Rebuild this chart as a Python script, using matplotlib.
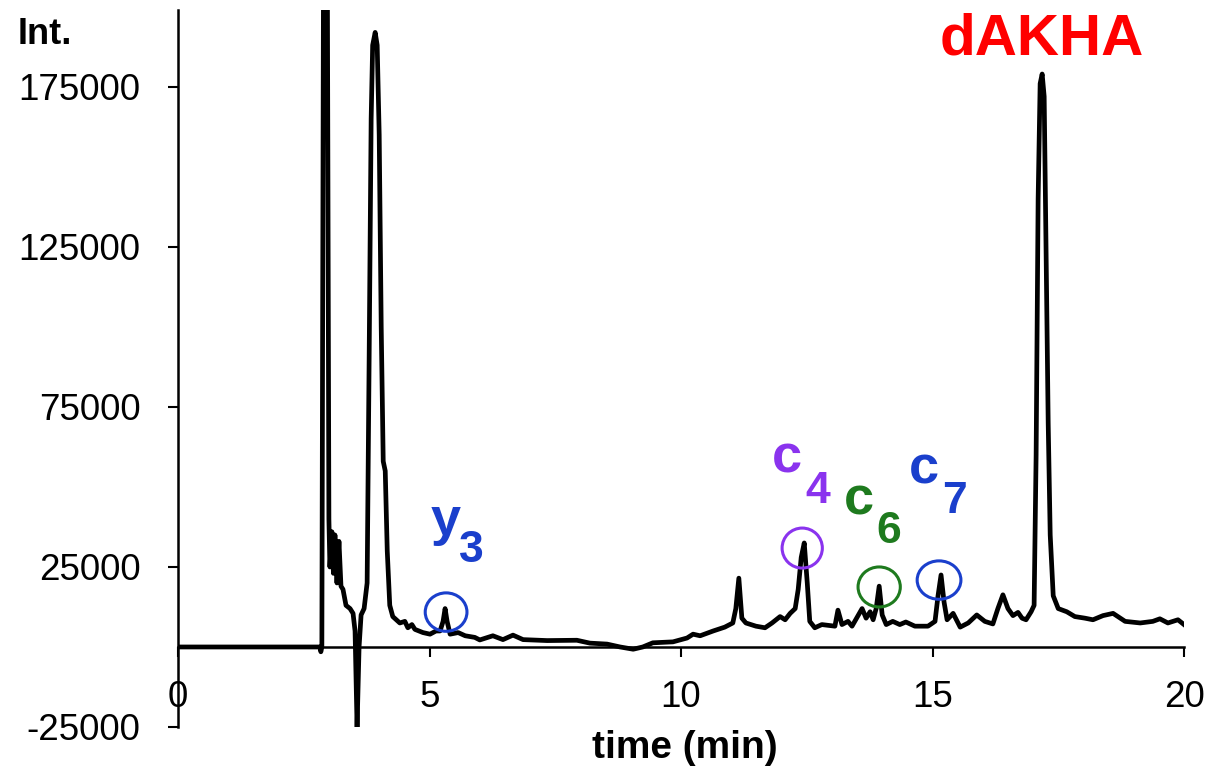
import matplotlib.pyplot as plt
from matplotlib.patches import Ellipse

plt.rcParams["font.family"] = ["Liberation Sans", "DejaVu Sans"]

# chromatogram trace (time in min, intensity)
time_min = [
    0.00, 2.82, 2.84, 2.86, 2.90, 2.96, 3.00, 3.02, 3.06, 3.09, 3.12, 3.16,
    3.20, 3.24, 3.28, 3.34, 3.42, 3.48, 3.52, 3.56, 3.60, 3.64, 3.70, 3.76,
    3.80, 3.84, 3.87, 3.92, 3.96, 4.00, 4.04, 4.08, 4.12, 4.16, 4.21, 4.27,
    4.41, 4.51, 4.57, 4.65, 4.71, 4.87, 5.01, 5.13, 5.21, 5.27, 5.31, 5.35,
    5.41, 5.57, 5.71, 5.90, 6.00, 6.26, 6.46, 6.66, 6.86, 7.34, 7.93, 8.19,
    8.53, 8.79, 9.05, 9.24, 9.44, 9.84, 10.12, 10.24, 10.38, 10.64, 10.87,
    11.03, 11.09, 11.15, 11.21, 11.29, 11.49, 11.67, 11.81, 11.97, 12.07,
    12.17, 12.27, 12.33, 12.39, 12.45, 12.51, 12.56, 12.66, 12.80, 13.06,
    13.12, 13.20, 13.32, 13.40, 13.60, 13.68, 13.76, 13.82, 13.88, 13.94,
    14.00, 14.08, 14.21, 14.35, 14.47, 14.65, 14.91, 15.05, 15.11, 15.17,
    15.23, 15.29, 15.41, 15.55, 15.71, 15.88, 16.04, 16.20, 16.30, 16.40,
    16.50, 16.60, 16.70, 16.78, 16.86, 16.96, 17.02, 17.06, 17.10, 17.14,
    17.18, 17.22, 17.26, 17.30, 17.34, 17.40, 17.50, 17.67, 17.83, 18.03,
    18.19, 18.39, 18.59, 18.83, 19.13, 19.38, 19.52, 19.68, 19.88, 20.00,
]
intensity = [
    0, 0, -1500, 0, 260000, 260000, 40000, 25000, 36000, 23000, 35000, 20000,
    33000, 19000, 18000, 13000, 12000, 10500, 5000, -25000, 0, 10000, 12000, 20000,
    90000, 165000, 188000, 192000, 188000, 160000, 100000, 58000, 55000, 30000, 13000, 9500,
    7500, 8000, 6000, 7000, 5500, 4500, 4000, 5000, 5000, 8000, 12000, 8000,
    4000, 4500, 3500, 3000, 2200, 3500, 2300, 3700, 2300, 2000, 2100, 1200,
    900, 0, -700, 0, 1300, 1600, 2800, 4000, 3500, 5000, 6200,
    7500, 12000, 21500, 9000, 7500, 6500, 6000, 7500, 9500, 8500,
    10500, 12000, 18000, 28000, 32500, 20000, 8000, 6000, 7000, 6500,
    11500, 7000, 8000, 6500, 12000, 9000, 11000, 8500, 12000, 19000,
    10000, 7000, 8000, 7000, 7800, 6500, 6500, 8000, 16000, 22500,
    14000, 8500, 10500, 6200, 7500, 10000, 8000, 7200, 12000, 16300,
    12000, 9800, 10800, 9000, 8500, 11000, 13000, 60000, 140000, 176000,
    179000, 172000, 120000, 70000, 35000, 16000, 12000, 11000, 9500, 9000,
    8500, 9800, 10500, 8000, 7500, 8000, 8800, 7500, 8500, 7000,
]

x_ticks = [0, 5, 10, 15, 20]
y_ticks = [-25000, 25000, 75000, 125000, 175000]

# marked fragment peaks: name, subscript, colour, peak time, peak height
frag_names = ["y", "c", "c", "c"]
frag_subs = ["3", "4", "6", "7"]
frag_colors = ["#1a3fcc", "#8a33ee", "#1e7a1e", "#1a3fcc"]
frag_times = [5.33, 12.41, 13.94, 15.13]
frag_heights = [10900, 30900, 18750, 20900]

fig = plt.figure(figsize=(12.21, 7.75), dpi=100)
ax = fig.add_axes([178 / 1221, 48 / 775, 1006 / 1221, 717 / 775])

ax.plot(time_min, intensity, color="black", lw=3.4, solid_joinstyle="round", zorder=3)

ax.set_xlim(0, 20)
ax.set_ylim(-25000, 199000)
ax.set_xticks(x_ticks)
ax.set_yticks(y_ticks)
ax.set_yticklabels([str(v) for v in y_ticks])

for side in ["top", "right"]:
    ax.spines[side].set_visible(False)
ax.spines["bottom"].set_position(("data", 0))
ax.spines["bottom"].set_linewidth(1.8)
ax.spines["left"].set_linewidth(1.8)
ax.tick_params(axis="both", direction="out", length=7, width=1.5, labelsize=26.5)
ax.tick_params(axis="x", pad=17)
ax.tick_params(axis="y", pad=20)

# circles and labels for the fragments
label_dx = [-0.30, -0.60, -0.70, -0.60]
label_dy = [24000, 23500, 22500, 30300]
sub_dx = [0.25, 0.07, -0.06, 0.06]
sub_dy = [15700, 14100, 13750, 21000]
circ_w = [0.83, 0.80, 0.84, 0.87]
circ_h = [12000, 12500, 12500, 12000]
for i in range(len(frag_names)):
    ax.add_patch(Ellipse((frag_times[i], frag_heights[i]), circ_w[i], circ_h[i],
                         fill=False, edgecolor=frag_colors[i], lw=2.2, zorder=4))
    ax.text(frag_times[i] + label_dx[i], frag_heights[i] + label_dy[i], frag_names[i],
            color=frag_colors[i], fontsize=39, fontweight="bold", ha="left", va="baseline")
    ax.text(frag_times[i] + sub_dx[i], frag_heights[i] + sub_dy[i], frag_subs[i],
            color=frag_colors[i], fontsize=32, fontweight="bold", ha="left", va="baseline")

ax.text(17.17, 185000, "dAKHA", color="#ff0000", fontsize=42, fontweight="bold",
        ha="center", va="baseline")

fig.text(18 / 1221, 1 - 44 / 775, "Int.", fontsize=26, fontweight="bold", va="baseline")
fig.text(685 / 1221, 1 - 758 / 775, "time (min)", fontsize=28, fontweight="bold",
         ha="center", va="baseline")

fig.savefig("out.png", dpi=100)
